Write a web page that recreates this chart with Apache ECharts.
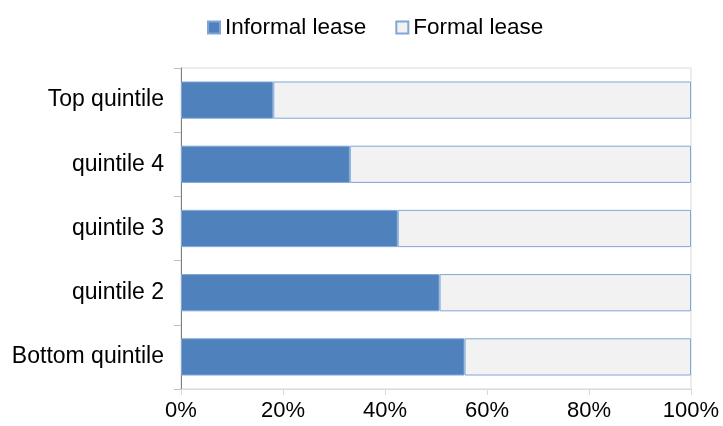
<!DOCTYPE html>
<html>
<head>
<meta charset="utf-8">
<script src="https://cdn.jsdelivr.net/npm/echarts@6/dist/echarts.min.js"></script>
<style>
  html, body { margin: 0; padding: 0; background: #fff; }
  #chart { width: 723px; height: 426px; }
</style>
</head>
<body>
<div id="chart"></div>
<script>
// bottom to top, as the category axis draws them
const categories = ['Bottom quintile', 'quintile 2', 'quintile 3', 'quintile 4', 'Top quintile'];
const informal = [55.6, 50.7, 42.5, 33.1, 18.1];
const formal = [44.4, 49.3, 57.5, 66.9, 81.9];
const xTicks = [0, 20, 40, 60, 80, 100];

const chart = echarts.init(document.getElementById('chart'));

let option = {
  backgroundColor: '#ffffff',
  animation: false,
  textStyle: {
    fontFamily: 'Liberation Sans, Arial, sans-serif'
  },
  legend: {
    top: 11,
    left: 202,
    itemWidth: 12,
    itemHeight: 12,
    itemGap: 29,
    textStyle: {
      fontSize: 22.5,
      color: '#000'
    },
    data: [
      { name: 'Informal lease', icon: 'rect' },
      { name: 'Formal lease', icon: 'rect' }
    ]
  },
  grid: {
    left: 181,
    right: 32,
    top: 68,
    bottom: 37,
    show: true,
    borderColor: '#d9d9d9',
    borderWidth: 1
  },
  xAxis: {
    type: 'value',
    min: xTicks[0],
    max: xTicks[xTicks.length - 1],
    interval: 20,
    splitLine: { show: false },
    axisLine: {
      show: true,
      lineStyle: { color: '#d9d9d9' }
    },
    axisTick: {
      show: true,
      length: 6,
      lineStyle: { color: '#d9d9d9' }
    },
    axisLabel: {
      color: '#000',
      fontSize: 22,
      margin: 11,
      formatter: '{value}%'
    }
  },
  yAxis: {
    type: 'category',
    data: categories,
    axisLine: {
      show: true,
      lineStyle: { color: '#808080' }
    },
    axisTick: {
      show: true,
      length: 7,
      lineStyle: { color: '#bfbfbf' }
    },
    axisLabel: {
      color: '#000',
      fontSize: 23,
      margin: 17
    }
  },
  series: [{
    name: 'Informal lease',
    type: 'bar',
    stack: 'all',
    barWidth: '58%',
    itemStyle: {
      color: '#4f81bd',
      borderColor: '#7fa6d8',
      borderWidth: 1
    },
    data: informal
  }, {
    name: 'Formal lease',
    type: 'bar',
    stack: 'all',
    barWidth: '58%',
    itemStyle: {
      color: '#f2f2f2',
      borderColor: '#7fa6d8',
      borderWidth: 1
    },
    data: formal
  }]
};

chart.setOption(option);
</script>
</body>
</html>
